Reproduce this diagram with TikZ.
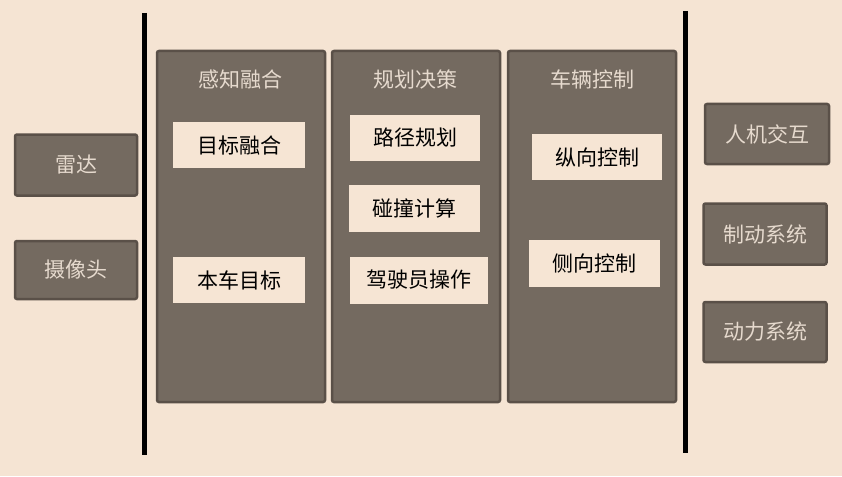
\documentclass[tikz,border=0pt]{standalone}
\usepackage{fontspec}
\newfontfamily\cjk{Noto Sans CJK SC}
\definecolor{bg}{HTML}{F5E4D3}
\definecolor{darkfill}{HTML}{746A60}
\definecolor{darkline}{HTML}{5A5048}
\definecolor{lighttext}{HTML}{E6DACE}
\definecolor{lightbox}{HTML}{F6E5D4}
\begin{document}
\begin{tikzpicture}[x=1pt,y=-1pt,
  column/.style={draw=darkline,fill=darkfill,line width=2.5pt,rounded corners=2pt},
  darkbox/.style={draw=darkline,fill=darkfill,line width=2.5pt,rounded corners=2pt,
    inner sep=0pt,font=\cjk\fontsize{21}{21}\selectfont,text=lighttext},
  lbox/.style={fill=lightbox,inner sep=0pt,font=\cjk\fontsize{21}{21}\selectfont,text=black},
  title/.style={font=\cjk\fontsize{21}{21}\selectfont,text=lighttext},
  bar/.style={line width=5pt,black}]
\fill[bg] (0,0) rectangle (842,476);
\useasboundingbox (0,0) rectangle (842,476);
% bars
\coordinate (lbt) at (144,13); \coordinate (lbb) at (144,455);
\coordinate (rbt) at (685,11); \coordinate (rbb) at (685,453);
\draw[bar] (lbt) -- (lbb);
\draw[bar] (rbt) -- (rbb);
% columns
\draw[column] (157,51) rectangle (325,402);
\draw[column] (332,51) rectangle (500,402);
\draw[column] (508,51) rectangle (676,402);
\node[title] (t1) at (240,79) {感知融合};
\node[title] (t2) at (415,79) {规划决策};
\node[title] (t3) at (592,79) {车辆控制};
% inner boxes
\node[lbox,minimum width=132pt,minimum height=46pt] (a1) at (239,145) {目标融合};
\node[lbox,minimum width=132pt,minimum height=46pt] (a2) at (239,280) {本车目标};
\node[lbox,minimum width=130pt,minimum height=46pt] (b1) at (415,138) {路径规划};
\node[lbox,minimum width=131pt,minimum height=47pt] (b2) at (414,208) {碰撞计算};
\node[lbox,minimum width=138pt,minimum height=47pt] (b3) at (419,280) {驾驶员操作};
\node[lbox,minimum width=130pt,minimum height=46pt] (c1) at (597,157) {纵向控制};
\node[lbox,minimum width=131pt,minimum height=47pt] (c2) at (594,263) {侧向控制};
% side boxes
\node[darkbox,minimum width=122pt,minimum height=61pt] (l1) at (76,165) {雷达};
\node[darkbox,minimum width=122pt,minimum height=58pt] (l2) at (76,270) {摄像头};
\node[darkbox,minimum width=124pt,minimum height=60pt] (r1) at (767,134) {人机交互};
\node[darkbox,minimum width=123pt,minimum height=61pt] (r2) at (765,234) {制动系统};
\node[darkbox,minimum width=123pt,minimum height=60pt] (r3) at (765,332) {动力系统};
\end{tikzpicture}
\end{document}
